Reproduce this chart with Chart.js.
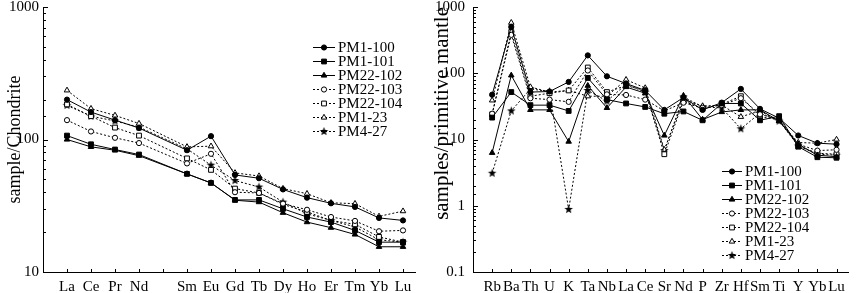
<!DOCTYPE html>
<html>
<head>
<meta charset="utf-8">
<script src="https://cdn.jsdelivr.net/npm/chart.js@4.4.1/dist/chart.umd.min.js"></script>
<style>
  body { margin: 0; background: #fff; }
  #wrap { position: relative; width: 858px; height: 293px; }
  canvas { position: absolute; top: 0; }
</style>
</head>
<body>
<div id="wrap">
  <canvas id="reeChart" width="430" height="293" style="left:0"></canvas>
  <canvas id="spiderChart" width="428" height="293" style="left:430px"></canvas>
</div>
<script>
// categories (blank slot = Pm, not analysed)
const reeElements = ['La', 'Ce', 'Pr', 'Nd', '', 'Sm', 'Eu', 'Gd', 'Tb', 'Dy', 'Ho', 'Er', 'Tm', 'Yb', 'Lu'];
const spiderElements = ['Rb', 'Ba', 'Th', 'U', 'K', 'Ta', 'Nb', 'La', 'Ce', 'Sr', 'Nd', 'P', 'Zr', 'Hf', 'Sm', 'Ti', 'Y', 'Yb', 'Lu'];
const sampleNames = ['PM1-100', 'PM1-101', 'PM22-102', 'PM22-103', 'PM22-104', 'PM1-23', 'PM4-27'];

// chondrite-normalised REE
const reePM1_100  = [200, 161, 140, 122, null, 83, 106, 54, 51, 42, 36.4, 33, 31, 25.6, 24.5];
const reePM1_101  = [107, 92, 84, 77, null, 55, 47, 35, 35, 30, 26, 23.8, 20.6, 16.8, 16.8];
const reePM22_102 = [100, 88, 83, 75.5, null, 55, 47, 34.8, 33.7, 28, 23.8, 21.6, 19.2, 15.5, 15.5];
const reePM22_103 = [140, 115, 103, 94, null, 66, 78, 40, 39.5, 32.8, 29.5, 26, 24.3, 20.3, 20.6];
const reePM22_104 = [184, 150, 123, 107, null, 72, 59, 42.6, 39.5, 32.4, 28.4, 24.5, 22.9, 18.4, 16.8];
const reePM1_23   = [235, 171, 152, 132, null, 88, 89, 56, 53, 42.6, 39, 33.3, 32.8, 26.3, 28.8];
const reePM4_27   = [181, 150, 138, 124, null, 85, 64, 49, 43.8, 33.7, 27.5, 24.5, 21.9, 17.5, 16.8];

// primitive-mantle-normalised trace elements
const spPM1_100  = [47.5, 500, 52, 53, 74, 186, 90, 70, 55, 28, 43, 28, 36, 58, 29, 21, 11.5, 8.8, 8.5];
const spPM1_101  = [21.4, 52, 33, 33, 27, 85, 40, 35, 31, 24.5, 26.5, 19.5, 35, 35, 19.5, 22.5, 7.8, 5.4, 5.3];
const spPM22_102 = [6.3, 93, 28, 28, 9.3, 65, 30, 62, 50, 11.5, 46, 20, 26, 28, 28, 19, 8.5, 5.8, 5.5];
const spPM22_103 = [24.5, 380, 42, 40, 37, 110, 48, 47, 40, 27, 36, 30, 33, 42, 24, 20, 8.5, 6.8, 7];
const spPM22_104 = [24, 420, 45, 50, 55, 122, 52, 65, 55, 6, 38, 29, 34, 45, 22, 20, 8, 6.2, 6];
const spPM1_23   = [39, 580, 62, 52, 55, 45, 45, 80, 60, 7, 40, 32, 33, 22, 27, 19, 9, 8.8, 10];
const spPM4_27   = [3.1, 27, 58, 53, 0.88, 55, 38, 68, 52, 6.8, 44, 31, 30, 14.5, 25, 19, 8, 6, 5.8];

const reeSeries = [reePM1_100, reePM1_101, reePM22_102, reePM22_103, reePM22_104, reePM1_23, reePM4_27];
const spiderSeries = [spPM1_100, spPM1_101, spPM22_102, spPM22_103, spPM22_104, spPM1_23, spPM4_27];

Chart.defaults.font.family = '"Liberation Serif", "Times New Roman", serif';
Chart.defaults.font.size = 15;
Chart.defaults.color = '#000';

// 5-pointed filled star marker
function makeStar(r) {
    const c = document.createElement('canvas');
    const s = Math.ceil(r * 2) + 2;
    c.width = c.height = s;
    const g = c.getContext('2d');
    g.fillStyle = '#000';
    g.beginPath();
    for (let k = 0; k < 10; k++) {
        const rad = k % 2 ? r * 0.42 : r;
        const ang = -Math.PI / 2 + k * Math.PI / 5;
        g.lineTo(s / 2 + rad * Math.cos(ang), s / 2 + rad * Math.sin(ang));
    }
    g.closePath();
    g.fill();
    return c;
}
const starImg = makeStar(4.5);

const seriesStyles = [
    { dash: [], point: 'circle', radius: 2.6, fill: '#000' },
    { dash: [], point: 'rect', radius: 3.4, fill: '#000' },
    { dash: [], point: 'triangle', radius: 3.2, fill: '#000' },
    { dash: [2, 2], point: 'circle', radius: 2.6, fill: '#fff' },
    { dash: [2, 2], point: 'rect', radius: 3.4, fill: '#fff' },
    { dash: [2, 2], point: 'triangle', radius: 3.2, fill: '#fff' },
    { dash: [2, 2], point: starImg, radius: 4, fill: '#000' }
];

const isDecade = v => Math.abs(Math.log10(v) - Math.round(Math.log10(v))) < 1e-6;

// tick marks pointing into the plot
const inwardTicks = {
    id: 'inwardTicks',
    afterDraw(chart) {
        const { ctx, chartArea: a, scales } = chart;
        ctx.save();
        ctx.strokeStyle = '#000';
        ctx.lineWidth = 1;
        ctx.beginPath();
        scales.y.ticks.forEach(t => {
            const y = Math.round(scales.y.getPixelForValue(t.value)) + 0.5;
            ctx.moveTo(a.left, y);
            ctx.lineTo(a.left + (isDecade(t.value) ? 5 : 3), y);
        });
        scales.x.ticks.forEach(t => {
            const x = Math.round(scales.x.getPixelForValue(t.value)) + 0.5;
            ctx.moveTo(x, a.bottom);
            ctx.lineTo(x, a.bottom - 3);
        });
        ctx.stroke();
        ctx.restore();
    }
};

const sampleLegend = {
    id: 'sampleLegend',
    afterDatasetsDraw(chart, args, opts) {
        const ctx = chart.ctx;
        ctx.save();
        ctx.font = '15px "Liberation Serif"';
        ctx.textBaseline = 'middle';
        chart.data.datasets.forEach((ds, i) => {
            const y = Math.round(opts.top + i * opts.rowHeight) + 0.5;
            ctx.strokeStyle = '#000';
            ctx.lineWidth = 1;
            ctx.setLineDash(ds.borderDash);
            ctx.beginPath();
            ctx.moveTo(opts.left, y);
            ctx.lineTo(opts.left + opts.lineLength, y);
            ctx.stroke();
            ctx.setLineDash([]);
            ctx.fillStyle = ds.pointBackgroundColor;
            Chart.helpers.drawPoint(ctx, { pointStyle: ds.pointStyle, radius: ds.pointRadius, borderWidth: 1, rotation: 0 },
                opts.left + opts.lineLength / 2, y);
            ctx.fillStyle = '#000';
            ctx.fillText(ds.label, opts.left + opts.lineLength + 3, y + 1);
        });
        ctx.restore();
    }
};

function buildChart(id, cats, series, yMin, yMax, xMax, cfg) {
    const datasets = series.map((vals, i) => ({
        label: sampleNames[i],
        data: vals.map((v, k) => ({ x: k, y: v })),
        borderColor: '#000',
        borderWidth: 1,
        borderDash: seriesStyles[i].dash,
        pointStyle: seriesStyles[i].point,
        pointRadius: seriesStyles[i].radius,
        pointBackgroundColor: seriesStyles[i].fill,
        pointBorderColor: '#000',
        pointBorderWidth: 1,
        spanGaps: true,
        tension: 0
    }));
    return new Chart(document.getElementById(id), {
        type: 'line',
        data: { labels: cats, datasets },
        options: {
            responsive: false,
            devicePixelRatio: 1,
            animation: false,
            layout: { padding: { top: 7, right: cfg.right, left: 0, bottom: 0 } },
            scales: {
                x: {
                    type: 'linear',
                    min: -1,
                    max: xMax,
                    grid: { display: false, drawTicks: false },
                    border: { display: true, color: '#000', width: 1 },
                    afterBuildTicks: s => { s.ticks = cats.map((c, k) => ({ value: k })); },
                    ticks: {
                        autoSkip: false,
                        maxRotation: 0,
                        padding: 6,
                        callback: v => cats[v] || ''
                    },
                    afterFit: s => { s.height = 21; s.paddingLeft = 0; s.paddingRight = 0; }
                },
                y: {
                    type: 'logarithmic',
                    min: yMin,
                    max: yMax,
                    grid: { display: false, drawTicks: false },
                    border: { display: true, color: '#000', width: 1 },
                    ticks: {
                        autoSkip: false,
                        padding: cfg.labelPad,
                        callback: v => isDecade(v) ? String(v) : ''
                    },
                    title: {
                        display: true,
                        text: cfg.title,
                        align: cfg.titleAlign,
                        font: { size: cfg.titleSize },
                        padding: { top: cfg.titlePad, bottom: 0 }
                    },
                    afterFit: s => { s.width = 43; s.paddingTop = 0; s.paddingBottom = 0; }
                }
            },
            plugins: {
                legend: { display: false },
                tooltip: { enabled: false },
                sampleLegend: cfg.legend
            }
        },
        plugins: [inwardTicks, sampleLegend]
    });
}

buildChart('reeChart', reeElements, reeSeries, 10, 1000, 14.5, {
    right: 15, labelPad: 4, title: 'sample/Chondrite', titleAlign: 'center', titleSize: 18, titlePad: 4,
    legend: { left: 313, top: 47, rowHeight: 14, lineLength: 22 }
});
buildChart('spiderChart', spiderElements, spiderSeries, 0.1, 1000, 18.6, {
    right: 10, labelPad: 8, title: 'samples/primitive mantle', titleAlign: 'end', titleSize: 21, titlePad: 0,
    legend: { left: 292, top: 171, rowHeight: 14, lineLength: 20 }
});
</script>
</body>
</html>
